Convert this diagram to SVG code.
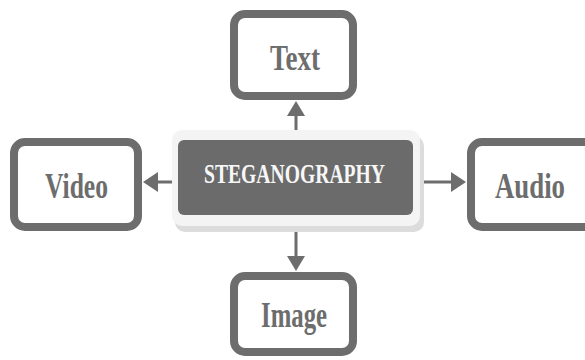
<svg xmlns="http://www.w3.org/2000/svg" width="585" height="360" viewBox="0 0 585 360">
<defs>
<style>
.node{fill:#ffffff;stroke:#6d6d6d;stroke-width:8}
.lbl{font-family:"Liberation Serif","Times New Roman",serif;font-weight:bold;fill:#6d6d6d;font-size:36px}
.conn{stroke:#6d6d6d;stroke-width:3;fill:none}
.head{fill:#6d6d6d}
</style>
</defs>
<rect width="585" height="360" fill="#ffffff"/>
<g id="connectors">
<line class="conn" x1="296" y1="112" x2="296" y2="260"/>
<line class="conn" x1="154" y1="182" x2="455" y2="182"/>
<polygon class="head" points="296,101 305,116 287,116"/>
<polygon class="head" points="296,271 305,256 287,256"/>
<polygon class="head" points="143,182 158,172 158,192"/>
<polygon class="head" points="466,182 451,172 451,192"/>
</g>
<g id="steganography">
<rect x="175" y="136" width="249" height="96" rx="10" fill="#dcdcdc"/>
<rect x="172" y="130" width="248" height="96" rx="10" fill="#f4f4f4"/>
<rect x="178" y="140" width="235" height="75" rx="6" fill="#6b6b6b"/>
<text x="204" y="183" textLength="181" lengthAdjust="spacingAndGlyphs" style="font-family:'Liberation Serif','Times New Roman',serif;font-weight:bold;font-size:27px;fill:#f7f7f7">STEGANOGRAPHY</text>
</g>
<g id="text">
<rect class="node" x="234" y="14" width="119" height="82" rx="11"/>
<text class="lbl" x="270" y="70" textLength="50" lengthAdjust="spacingAndGlyphs">Text</text>
</g>
<g id="video">
<rect class="node" x="14" y="142" width="124" height="85" rx="11"/>
<text class="lbl" x="45" y="198" textLength="63" lengthAdjust="spacingAndGlyphs">Video</text>
</g>
<g id="audio">
<rect class="node" x="471" y="142" width="130" height="85" rx="11"/>
<text class="lbl" x="495" y="198" textLength="70" lengthAdjust="spacingAndGlyphs">Audio</text>
</g>
<g id="image">
<rect class="node" x="234" y="276" width="119" height="76" rx="11"/>
<text class="lbl" x="261" y="327" textLength="66" lengthAdjust="spacingAndGlyphs">Image</text>
</g>
</svg>
